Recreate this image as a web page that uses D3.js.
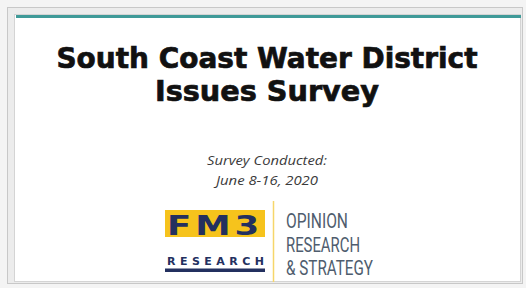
<!DOCTYPE html>
<html>
<head>
<meta charset="utf-8">
<script src="https://cdn.jsdelivr.net/npm/d3@7"></script>
<style>
  body { margin: 0; background: #fff; }
</style>
</head>
<body>
<div id="slide"></div>
<script>
var titleLines = ["South Coast Water District", "Issues Survey"];
var subtitleLines = ["Survey Conducted:", "June 8-16, 2020"];
var logoMark = "FM3";
var logoWord = "RESEARCH";
var tagLines = ["OPINION", "RESEARCH", "& STRATEGY"];

var width = 526, height = 288;

var svg = d3.select("#slide")
  .append("svg")
  .attr("width", width)
  .attr("height", height);

// outer frame
svg.append("rect")
  .attr("x", 0).attr("y", 0).attr("width", width).attr("height", height)
  .attr("fill", "#f4f4f4");
svg.append("rect")
  .attr("x", 7.5).attr("y", 7.5).attr("width", 515).attr("height", 276)
  .attr("fill", "#ececec").attr("stroke", "#c8c8c8");
svg.append("rect")
  .attr("x", 14.5).attr("y", 14.5).attr("width", 506).attr("height", 267)
  .attr("fill", "#ffffff").attr("stroke", "#d4d4d4");
svg.append("rect")
  .attr("x", 16).attr("y", 15).attr("width", 505).attr("height", 3)
  .attr("fill", "#3f9a98");

// title, each line squeezed to the width
var titleWidths = [421, 224];
var lineY = d3.scalePoint().domain(titleLines).range([68, 101]);
svg.selectAll("text.title")
  .data(titleLines)
  .enter().append("text")
  .attr("class", "title")
  .attr("x", 267)
  .attr("y", function(d) { return lineY(d); })
  .attr("text-anchor", "middle")
  .attr("font-family", "DejaVu Sans")
  .attr("font-weight", "bold")
  .attr("font-size", 27.5)
  .attr("fill", "#111")
  .attr("stroke", "#111")
  .attr("stroke-width", 0.7)
  .attr("textLength", function(d, i) { return titleWidths[i]; })
  .attr("lengthAdjust", "spacingAndGlyphs")
  .text(function(d) { return d; });

// subtitle
var subWidths = [120, 102];
var subY = d3.scalePoint().domain(subtitleLines).range([164.5, 185]);
svg.selectAll("text.sub")
  .data(subtitleLines)
  .enter().append("text")
  .attr("class", "sub")
  .attr("x", 267)
  .attr("y", function(d) { return subY(d); })
  .attr("text-anchor", "middle")
  .attr("font-family", "Open Sans")
  .attr("font-style", "italic")
  .attr("font-size", 13)
  .attr("fill", "#3a3a3a")
  .attr("textLength", function(d, i) { return subWidths[i]; })
  .attr("lengthAdjust", "spacingAndGlyphs")
  .text(function(d) { return d; });

// logo
var logo = svg.append("g");
logo.append("rect")
  .attr("x", 165).attr("y", 210).attr("width", 100).attr("height", 27)
  .attr("fill", "#f6c31c");
logo.append("text")
  .attr("x", 167).attr("y", 235)
  .attr("font-family", "DejaVu Sans")
  .attr("font-weight", "bold")
  .attr("font-size", 27.4)
  .attr("letter-spacing", 3)
  .attr("textLength", 96)
  .attr("lengthAdjust", "spacingAndGlyphs")
  .attr("fill", "#23305f")
  .text(logoMark);
logo.append("text")
  .attr("x", 167).attr("y", 265)
  .attr("font-family", "DejaVu Sans")
  .attr("font-weight", "bold")
  .attr("font-size", 11)
  .attr("textLength", 97)
  .attr("lengthAdjust", "spacing")
  .attr("fill", "#23305f")
  .text(logoWord);
logo.append("rect")
  .attr("x", 165).attr("y", 268.5).attr("width", 100).attr("height", 3.5)
  .attr("fill", "#23305f");
logo.append("line")
  .attr("x1", 273.5).attr("x2", 273.5).attr("y1", 201).attr("y2", 282)
  .attr("stroke", "#f6d66a").attr("stroke-width", 1.5);

var tagWidths = [62, 74, 87];
var tagY = d3.scalePoint().domain(tagLines).range([228, 275]);
logo.selectAll("text.tag")
  .data(tagLines)
  .enter().append("text")
  .attr("class", "tag")
  .attr("x", 286)
  .attr("y", function(d) { return tagY(d); })
  .attr("font-family", "Roboto")
  .attr("font-size", 20)
  .attr("fill", "#4f5d6e")
  .attr("textLength", function(d, i) { return tagWidths[i]; })
  .attr("lengthAdjust", "spacingAndGlyphs")
  .text(function(d) { return d; });
</script>
</body>
</html>
